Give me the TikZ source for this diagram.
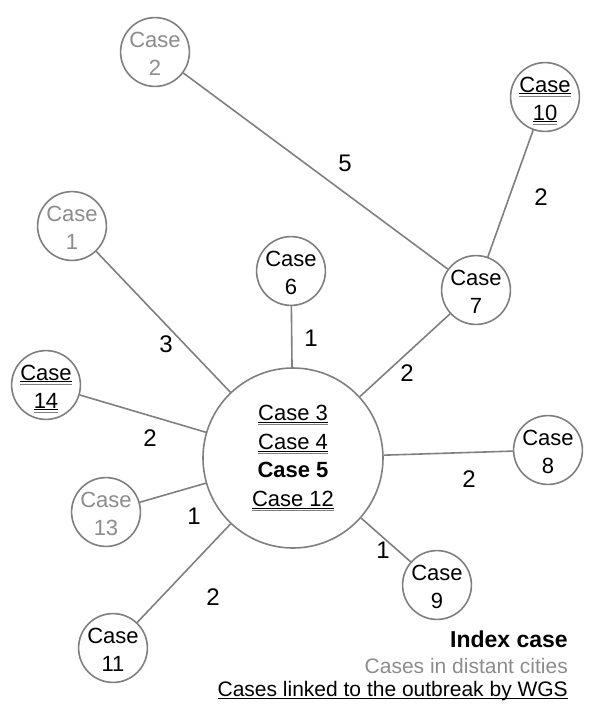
\documentclass[tikz,border=0pt]{standalone}
\usepackage{fontspec}
\setmainfont{Liberation Sans}
\definecolor{edgegray}{HTML}{7F7F7F}
\definecolor{textgray}{HTML}{8C8C8C}
\newsavebox{\ulbox}
\newcommand{\dul}[1]{\sbox{\ulbox}{#1}\rlap{\usebox{\ulbox}}\rlap{\rule[-2.4pt]{\wd\ulbox}{1pt}}\textcolor{gray}{\rule[-4.6pt]{\wd\ulbox}{0.8pt}}}
\newcommand{\sul}[1]{\sbox{\ulbox}{#1}\rlap{\usebox{\ulbox}}\rule[-3pt]{\wd\ulbox}{1pt}}
\begin{document}
\begin{tikzpicture}[x=1pt,y=-1pt,
  casenode/.style={circle,draw=edgegray,line width=1.6pt,fill=white,minimum size=66pt,inner sep=0pt,align=center,text height=46pt,text depth=-2pt,font=\fontsize{22}{28}\selectfont},
  bignode/.style={circle,draw=edgegray,line width=1.6pt,fill=white,minimum size=180pt,inner sep=0pt,align=center,font=\fontsize{22}{28.5}\selectfont},
  distant/.style={text=textgray},
  link/.style={draw=edgegray,line width=1.6pt},
  wlabel/.style={font=\fontsize{24}{26}\selectfont},
  legend/.style={anchor=base east,inner sep=0pt,font=\fontsize{21}{24}\selectfont}]
\useasboundingbox (0,0) rectangle (600,713);
\node[bignode] (c) at (293,458) {\dul{Case 3}\\\dul{Case 4}\\\textbf{Case 5}\\\dul{Case 12}};
\node[casenode,distant] (n2) at (155,52) {Case\\2};
\node[casenode] (n10) at (545,97) {\dul{Case}\\\dul{10}};
\node[casenode,distant] (n1) at (72,226) {Case\\1};
\node[casenode] (n6) at (291,271) {Case\\6};
\node[casenode] (n7) at (476,290) {Case\\7};
\node[casenode] (n14) at (46,385) {\dul{Case}\\\dul{14}};
\node[casenode] (n8) at (548,450) {Case\\8};
\node[casenode,distant] (n13) at (106,512) {Case\\13};
\node[casenode] (n9) at (437,585) {Case\\9};
\node[casenode] (n11) at (113,648) {Case\\11};
\draw[link] (n2) -- (n7);
\draw[link] (n10) -- (n7);
\draw[link] (n7) -- (c);
\draw[link] (n1) -- (c);
\draw[link] (n6) -- (c);
\draw[link] (n14) -- (c);
\draw[link] (n8) -- (c);
\draw[link] (n13) -- (c);
\draw[link] (n9) -- (c);
\draw[link] (n11) -- (c);
\node[wlabel] (l27) at (345,163) {5};
\node[wlabel] (l107) at (541,197) {2};
\node[wlabel] (l7c) at (407,373) {2};
\node[wlabel] (l1c) at (166,344) {3};
\node[wlabel] (l6c) at (311,338) {1};
\node[wlabel] (l14c) at (150,438) {2};
\node[wlabel] (l8c) at (469,479) {2};
\node[wlabel] (l13c) at (194,516) {1};
\node[wlabel] (l9c) at (383,550) {1};
\node[wlabel] (l11c) at (213,597) {2};
\node[legend,font=\fontsize{23}{24}\selectfont] (leg1) at (568,647) {\textbf{Index case}};
\node[legend,text=textgray] (leg2) at (568,673) {Cases in distant cities};
\node[legend] (leg3) at (568,696) {\sul{Cases linked to the outbreak by WGS}};
\end{tikzpicture}
\end{document}
